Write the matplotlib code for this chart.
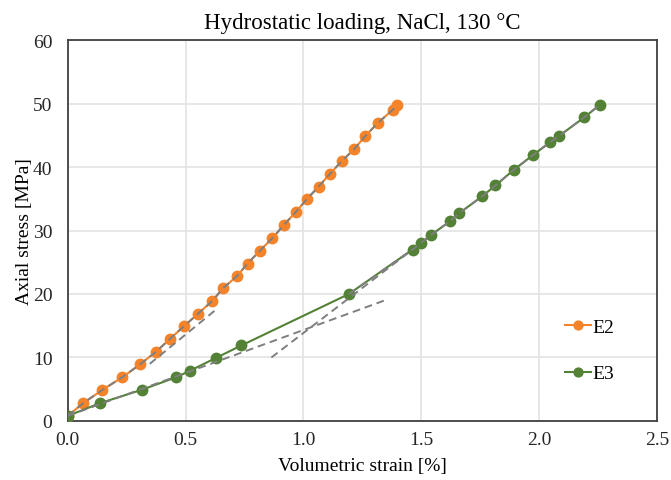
import matplotlib.pyplot as plt

plt.rcParams["font.family"] = ["Liberation Serif", "DejaVu Serif"]

# E2 data (volumetric strain [%], axial stress [MPa])
e2_strain = [0.0, 0.065, 0.147, 0.232, 0.306, 0.374, 0.433, 0.492, 0.553, 0.613,
             0.659, 0.720, 0.763, 0.815, 0.868, 0.918, 0.967, 1.016, 1.064, 1.112,
             1.162, 1.215, 1.263, 1.315, 1.378, 1.398]
e2_stress = [0.8, 2.8, 4.9, 6.9, 8.9, 10.9, 12.9, 14.9, 16.9, 18.9,
             20.9, 22.9, 24.8, 26.8, 28.8, 30.9, 32.9, 35.0, 36.9, 38.9,
             40.9, 42.8, 44.9, 46.9, 49.0, 49.7]

# E3 data
e3_strain = [0.0, 0.136, 0.313, 0.461, 0.518, 0.627, 0.737, 1.193, 1.463, 1.498,
             1.541, 1.624, 1.660, 1.759, 1.815, 1.894, 1.975, 2.046, 2.085, 2.191, 2.258]
e3_stress = [0.8, 2.8, 4.9, 6.9, 7.9, 9.9, 11.9, 20.0, 27.0, 28.0,
             29.3, 31.5, 32.7, 35.4, 37.1, 39.6, 41.9, 43.9, 44.9, 47.8, 49.8]

# tangent / fit lines (dashed grey)
e2_tan_x = [0.348, 0.631]
e2_tan_y = [9.0, 17.6]
e3_tan1_x = [0.0, 1.353]
e3_tan1_y = [0.8, 19.1]
e3_tan2_x = [0.864, 1.463]
e3_tan2_y = [10.0, 27.0]

orange = "#F4832A"
green = "#538135"
grey = "#7F7F7F"

fig = plt.figure(figsize=(6.71, 4.81), dpi=100)
ax = fig.add_axes([0.101, 0.1227, 0.878, 0.792])

ax.plot(e2_strain, e2_stress, color=orange, marker="o", markersize=7.5, lw=1.5, label="E2", zorder=3)
ax.plot(e3_strain, e3_stress, color=green, marker="o", markersize=7.5, lw=1.5, label="E3", zorder=3)

dash = dict(color=grey, lw=1.4, ls=(0, (4, 2.5)), zorder=4)
ax.plot(e2_strain, e2_stress, **dash)
ax.plot(e2_tan_x, e2_tan_y, **dash)
ax.plot(e3_tan1_x, e3_tan1_y, **dash)
ax.plot(e3_tan2_x, e3_tan2_y, **dash)
ax.plot(e3_strain[7:], e3_stress[7:], **dash)

ax.set_xlim(0, 2.5)
ax.set_ylim(0, 60)
ax.set_xticks([0, 0.5, 1.0, 1.5, 2.0, 2.5])
ax.set_xticklabels(["0.0", "0.5", "1.0", "1.5", "2.0", "2.5"])
ax.set_yticks(range(0, 61, 10))
ax.tick_params(length=0, labelsize=14, colors="#262626")
ax.tick_params(axis="x", pad=7)
ax.tick_params(axis="y", pad=11)
ax.grid(True, color="#E3E3E3", lw=1.2)
ax.set_axisbelow(True)
for s in ax.spines.values():
    s.set_color("#404040")
    s.set_linewidth(1.3)

ax.set_xlabel("Volumetric strain [%]", fontsize=14, labelpad=7)
ax.set_ylabel("Axial stress [MPa]", fontsize=14, labelpad=0)
ax.set_title("Hydrostatic loading, NaCl, 130 °C", fontsize=16.5, pad=9)

ax.legend(loc="center left", bbox_to_anchor=(0.815, 0.186), frameon=False, fontsize=14,
          handlelength=1.3, handletextpad=0.1, labelspacing=1.5, markerscale=0.85)

fig.savefig("out.png", dpi=100)
